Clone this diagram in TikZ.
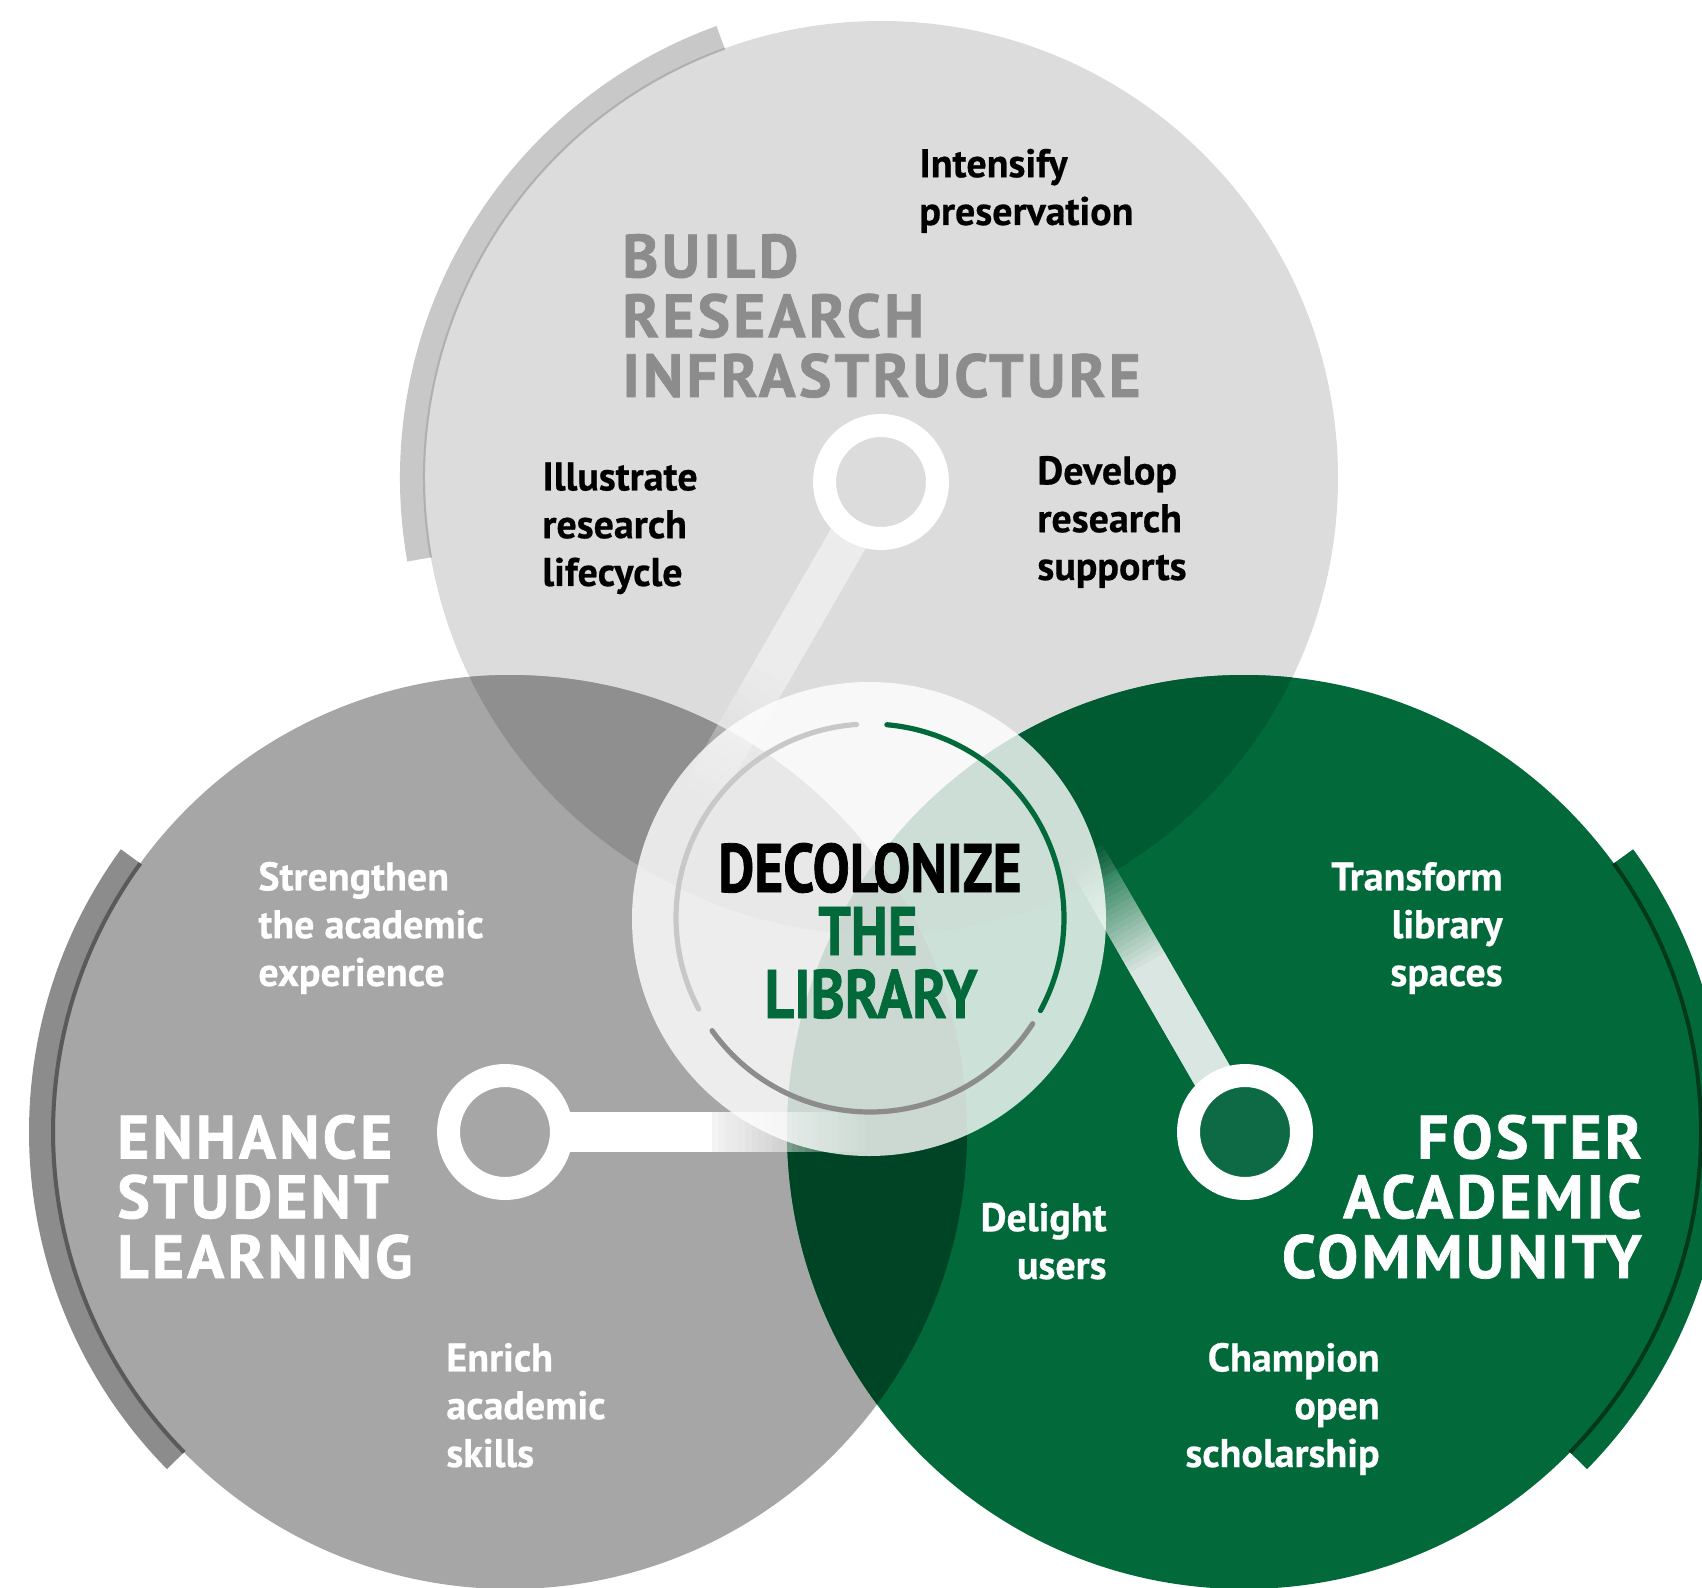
\documentclass[tikz,border=0pt]{standalone}
\usepackage{fontspec}
\setmainfont{PT Sans}
\usepackage{graphicx}
\definecolor{topc}{HTML}{DCDCDC}
\definecolor{leftc}{HTML}{A6A6A6}
\definecolor{rightc}{HTML}{01693A}
\definecolor{tlc}{HTML}{8F8F8F}
\definecolor{trc}{HTML}{005A32}
\definecolor{lrc}{HTML}{004426}
\definecolor{tlrc}{HTML}{003B20}
\definecolor{topband}{HTML}{C8C8C8}
\definecolor{topline}{HTML}{B0B0B0}
\definecolor{leftband}{HTML}{8C8C8C}
\definecolor{leftline}{HTML}{5A5A5A}
\definecolor{rightline}{HTML}{00381B}
\definecolor{titlegray}{HTML}{8C8C8C}
\definecolor{arclight}{HTML}{C8C8C8}
\definecolor{arcdark}{HTML}{8C8C8C}
\definecolor{ringfill}{HTML}{0E6A44}
\newcommand{\fadeband}[6]{%
\begin{scope}[shift={(#1)}, rotate=#2]
\foreach \k in {1,...,24}{
  \pgfmathsetmacro{\Tk}{1-#3*(25-\k)/24}
  \pgfmathsetmacro{\Tn}{1-#3*(24-\k)/24}
  \pgfmathsetmacro{\ak}{1-\Tk/\Tn}
  \pgfmathsetmacro{\tk}{#5+(#6-#5)*\k/24}
  \fill[white, fill opacity=\ak] (#4,-20) rectangle (\tk,20);
}
\end{scope}}
\tikzset{
  lbl/.style={font=\fontsize{20}{23.9}\selectfont\bfseries\addfontfeature{FakeBold=0.5}, align=left, inner sep=0pt},
  lblr/.style={lbl, align=right, anchor=base east},
  lbll/.style={lbl, anchor=base west},
  ttl/.style={font=\fontsize{30.5}{29.9}\selectfont\bfseries\addfontfeature{LetterSpace=5.5,FakeBold=1.2}, inner sep=0pt},
  dec/.style={font=\fontsize{34.3}{34.3}\selectfont\bfseries\addfontfeature{FakeBold=1.2}, inner sep=0pt, anchor=base},
  ringnode/.style={circle, draw=white, line width=11.5pt, minimum size=56.5pt, inner sep=0pt},
  innerarc/.style={line width=2.6pt, line cap=round}
}
\begin{document}
\begin{tikzpicture}[x=0.5pt,y=0.5pt]
\useasboundingbox (0,0) rectangle (1702,-1588);
\clip (0,0) rectangle (1702,-1588);
\coordinate (ct) at (881,-478);
\coordinate (cl) at (510,-1132);
\coordinate (cr) at (1244,-1132);
% base circles
\fill[topc] (ct) circle[radius=457];
\fill[leftc] (cl) circle[radius=457];
\fill[rightc] (cr) circle[radius=457];
% intersections (multiply look)
\begin{scope}
  \clip (ct) circle[radius=457];
  \fill[tlc] (cl) circle[radius=457];
  \fill[trc] (cr) circle[radius=457];
\end{scope}
\begin{scope}
  \clip (cl) circle[radius=457];
  \fill[lrc] (cr) circle[radius=457];
  \begin{scope}
    \clip (ct) circle[radius=457];
    \fill[tlrc] (cr) circle[radius=457];
  \end{scope}
\end{scope}
% outer decorative bands
\fill[topband] ([shift={(110:456)}]ct) arc[start angle=110,end angle=190,radius=456]
  -- ([shift={(190:481)}]ct) arc[start angle=190,end angle=110,radius=481] -- cycle;
\draw[topline, line width=1pt] ([shift={(110:457)}]ct) arc[start angle=110,end angle=190,radius=457];
\fill[leftband] ([shift={(144:455)}]cl) arc[start angle=144,end angle=224.5,radius=455]
  -- ([shift={(224.5:481)}]cl) arc[start angle=224.5,end angle=144,radius=481] -- cycle;
\draw[leftline, line width=2pt] ([shift={(144:457)}]cl) arc[start angle=144,end angle=224.5,radius=457];
\fill[rightc] ([shift={(-44.5:455)}]cr) arc[start angle=-44.5,end angle=36,radius=455]
  -- ([shift={(36:481)}]cr) arc[start angle=36,end angle=-44.5,radius=481] -- cycle;
\draw[rightline, line width=2pt] ([shift={(-44.5:457)}]cr) arc[start angle=-44.5,end angle=36,radius=457];
% ring positions
\coordinate (rT) at (881,-482);
\coordinate (rL) at (505,-1132);
\coordinate (rR) at (1245,-1132);
% connector bands (fading towards the hub)
\fadeband{rT}{240}{0.75}{55}{210}{360}
\fadeband{rL}{0}{1}{55}{200}{360}
\fadeband{rR}{120}{0.88}{55}{190}{320}
% rings
\node[ringnode] (ringT) at (rT) {};
\node[ringnode] (ringL) at (rL) {};
\node[ringnode, fill=ringfill] (ringR) at (rR) {};
% hub
\node[circle, fill=white, fill opacity=0.8, minimum size=237pt, inner sep=0pt] (hub) at (869,-919) {};
\coordinate (hc) at (870,-918);
\draw[innerarc, arclight] ([shift={(94:194)}]hc) arc[start angle=94,end angle=208,radius=194];
\draw[innerarc, rightc] ([shift={(85:194)}]hc) arc[start angle=85,end angle=-28.5,radius=194];
\draw[innerarc, arcdark] ([shift={(215.5:194)}]hc) arc[start angle=215.5,end angle=327,radius=194];
\node[dec, text=black] (d1) at (870,-892) {\scalebox{0.81}[1]{DECOLONIZE}};
\node[dec, text=rightc] (d2) at (868,-955) {\scalebox{0.83}[1]{THE}};
\node[dec, text=rightc] (d3) at (871,-1018) {\scalebox{0.84}[1]{LIBRARY}};
% titles (anchor = baseline of last line)
\node[ttl, text=titlegray, align=left, anchor=base west] (tBuild) at (622,-397) {BUILD\\RESEARCH\\INFRASTRUCTURE};
\node[ttl, text=white, align=left, anchor=base west] (tEnh) at (117,-1278) {ENHANCE\\STUDENT\\LEARNING};
\node[ttl, text=white, align=right, anchor=base east] (tFos) at (1642,-1278) {FOSTER\\ACADEMIC\\COMMUNITY};
% labels (anchor = baseline of last line)
\node[lbll, text=black] (lInt) at (919,-225) {Intensify\\preservation};
\node[lbll, text=black] (lIll) at (542,-586) {Illustrate\\research\\lifecycle};
\node[lbll, text=black] (lDev) at (1037,-580) {Develop\\research\\supports};
\node[lbll, text=white] (lStr) at (258,-986) {Strengthen\\the academic\\experience};
\node[lbll, text=white] (lEnr) at (446,-1467) {Enrich\\academic\\skills};
\node[lblr, text=white] (lTra) at (1503,-986) {Transform\\library\\spaces};
\node[lblr, text=white] (lDel) at (1107,-1279) {Delight\\users};
\node[lblr, text=white] (lCha) at (1380,-1467) {Champion\\open\\scholarship};
\end{tikzpicture}
\end{document}
